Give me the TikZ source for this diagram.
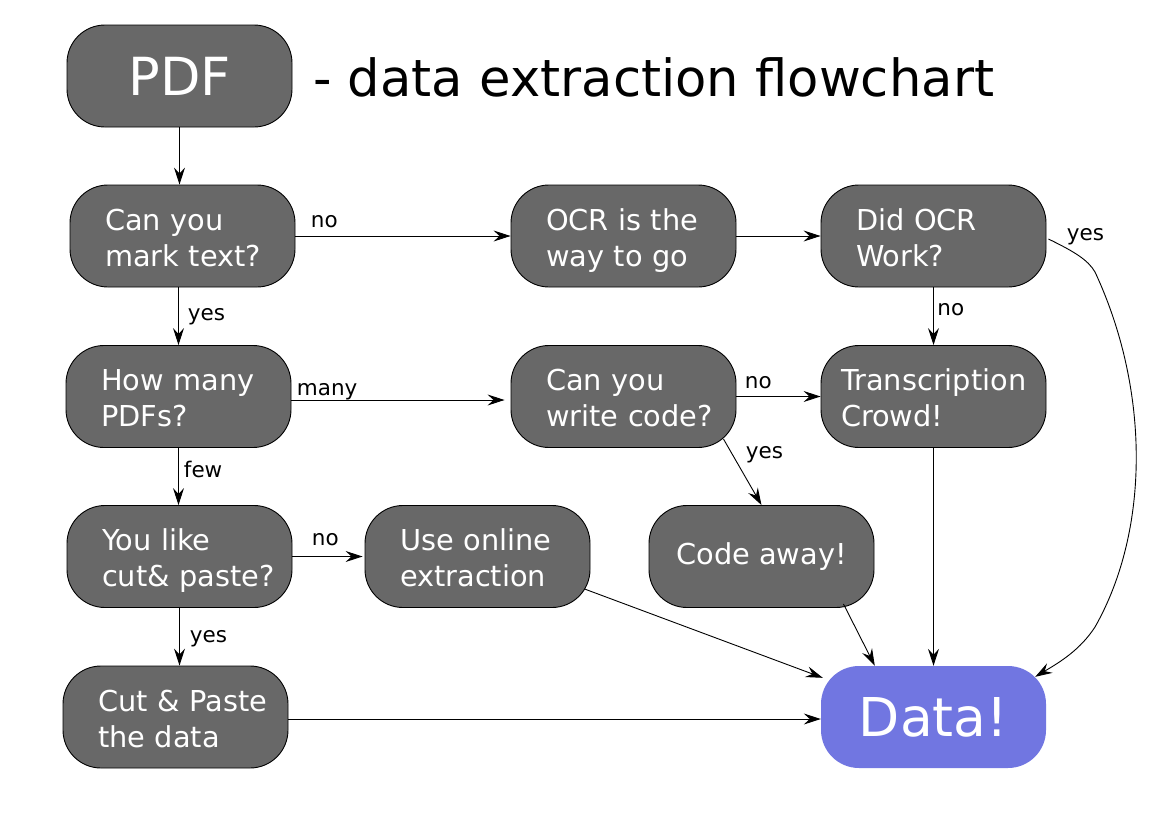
\documentclass[tikz,border=0pt]{standalone}
\usepackage{fontspec}
\setmainfont{DejaVu Sans}
\usetikzlibrary{arrows.meta,calc}
\definecolor{boxgrey}{HTML}{686868}
\definecolor{datablue}{HTML}{7176E1}
\tikzset{
  boxbase/.style={draw=black, line width=0.9pt, fill=boxgrey, text=white, rounded corners=38pt,
    minimum width=225pt, minimum height=102pt, inner ysep=0pt,
    font=\fontsize{28.8}{36}\selectfont},
  box/.style={boxbase, align=left, text width=155pt, inner xsep=35pt,
    text height=22pt, text depth=34pt},
  bigbox/.style={boxbase, font=\fontsize{52.5}{60}\selectfont, align=center, inner xsep=0pt},
  databox/.style={fill=datablue, text=white, rounded corners=38pt,
    minimum width=225pt, minimum height=102pt, inner sep=0pt,
    font=\fontsize{53.5}{60}\selectfont},
  conn/.style={draw, line width=0.9pt, -{Stealth[length=17pt,width=11pt,inset=6pt]}},
  lbl/.style={font=\fontsize{21.5}{24}\selectfont, inner sep=0pt, anchor=base west, text=black}
}
\begin{document}
\begin{tikzpicture}[x=1pt,y=-1pt]
\useasboundingbox (0,0) rectangle (1169,827);
\node[bigbox] (pdf) at (179.5,76) {PDF};
\node[font=\fontsize{51.2}{60}\selectfont, inner sep=0pt, anchor=base west] (title) at (313,96) {- data extraction flowchart};

\node[box] (mark) at (182.5,236) {\mbox{Can you}\\\mbox{mark text?}};
\node[box] (ocr) at (623.5,236) {\mbox{OCR is the}\\\mbox{way to go}};
\node[box] (did) at (933.5,236) {\mbox{Did OCR}\\\mbox{Work?}};
\node[box] (many) at (178.5,396.5) {\mbox{How many}\\\mbox{PDFs?}};
\node[box] (code) at (623.5,396.5) {\mbox{Can you}\\\mbox{write code?}};
\node[box, text width=185pt, inner xsep=20pt] (trans) at (933.5,396.5) {\mbox{Transcription}\\\mbox{Crowd!}};
\node[box] (like) at (179.5,556.5) {\mbox{You like}\\\mbox{cut\& paste?}};
\node[box] (online) at (477.5,556.5) {\mbox{Use online}\\\mbox{extraction}};
\node[boxbase, inner xsep=0pt] (away) at (761.5,556.5) {Code away!};
\node[box] (cut) at (175.5,717) {\mbox{Cut \& Paste}\\\mbox{the data}};
\node[databox] (data) at (933.5,717) {Data!};

\draw[conn] (pdf.south) -- (pdf.south |- mark.north);
\draw[conn] (mark.east) -- (ocr.west)
  node[lbl, at start, xshift=15pt, yshift=9pt] (l1) {no};
\draw[conn] (ocr.east) -- (did.west);
\draw[conn] (did.south) -- (trans.north)
  node[lbl, at start, xshift=3.5pt, yshift=-28pt] (l2) {no};
\draw[conn] ($(did.east)+(2,3)$) node[lbl, xshift=18pt, yshift=-1pt] (l3) {yes}
  .. controls (1075,252) and (1088,260) .. (1095,272)
  .. controls (1150,390) and (1150,530) .. (1095,627)
  .. controls (1080,650) and (1060,662) .. ($(data.north east)+(-11,11)$);
\draw[conn] (many.north |- mark.south) -- (many.north |- many.north)
  node[lbl, at start, xshift=9pt, yshift=-33pt] (l4) {yes};
\draw[conn] (many.east |- 0,400) -- ($(code.west |- 0,400)+(-6,0)$)
  node[lbl, at start, xshift=5pt, yshift=5pt] (l5) {many};
\draw[conn] (code.east) -- (trans.west)
  node[lbl, at start, xshift=8pt, yshift=8pt] (l6) {no};
\draw[conn] ($(code.south east)+(-13,-9)$) -- (away.north)
  node[lbl, at start, xshift=22pt, yshift=-20pt] (l7) {yes};
\draw[conn] (many.south) -- (many.south |- like.north)
  node[lbl, at start, xshift=5pt, yshift=-30pt] (l8) {few};
\draw[conn] (like.east) -- ($(online.west)+(-2,0)$)
  node[lbl, at start, xshift=19pt, yshift=11pt] (l9) {no};
\draw[conn] (like.south) -- (like.south |- cut.north)
  node[lbl, at start, xshift=10pt, yshift=-35pt] (l10) {yes};
\draw[conn] ($(online.south east)+(-6,-19)$) -- ($(data.north west)+(2,12)$);
\draw[conn] ($(away.south east)+(-31,-4)$) -- ($(data.north west)+(54,0)$);
\draw[conn] (trans.south) -- (data.north);
\draw[conn] (cut.east |- 0,719) -- (data.west |- 0,719);
\end{tikzpicture}
\end{document}
